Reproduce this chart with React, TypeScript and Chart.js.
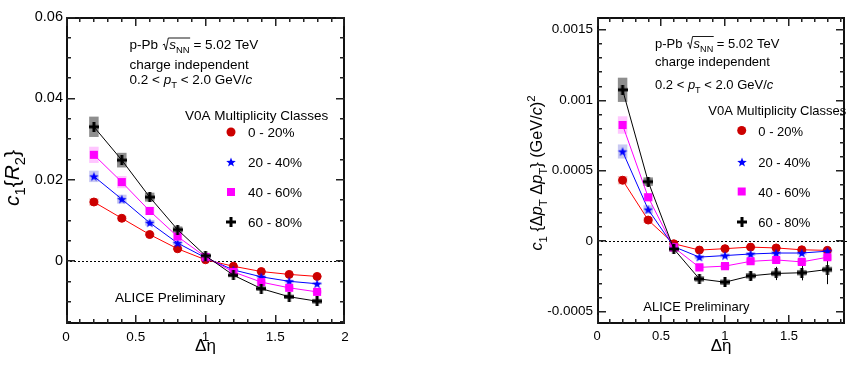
import React, { useEffect, useRef } from 'react';
import { Chart, registerables } from 'chart.js';

Chart.register(...registerables);

// ---------------- data ----------------
const ETA = [0.2, 0.4, 0.6, 0.8, 1.0, 1.2, 1.4, 1.6, 1.8];
const CLASS_LABELS = ['0 - 20%', '20 - 40%', '40 - 60%', '60 - 80%'];

// c1{R2}
const R2_C0_20 = [0.0145, 0.0105, 0.0065, 0.0030, 0.0003, -0.0013, -0.0026, -0.0033, -0.0038];
const R2_C20_40 = [0.0208, 0.0152, 0.0094, 0.0044, 0.0008, -0.0022, -0.0039, -0.0050, -0.0056];
const R2_C40_60 = [0.0261, 0.0194, 0.0123, 0.0060, 0.0010, -0.0027, -0.0052, -0.0066, -0.0076];
const R2_C60_80 = [0.0330, 0.0248, 0.0157, 0.0077, 0.0013, -0.0035, -0.0068, -0.0088, -0.0099];

const R2_SYS_C0_20 = [0.0009, 0.0006, 0.0004, 0.0003, 0.0003, 0.0003, 0.0003, 0.0003, 0.0003];
const R2_SYS_C20_40 = [0.0014, 0.0011, 0.0007, 0.0005, 0.0003, 0.0003, 0.0003, 0.0003, 0.0003];
const R2_SYS_C40_60 = [0.0020, 0.0015, 0.0010, 0.0008, 0.0004, 0.0004, 0.0004, 0.0004, 0.0004];
const R2_SYS_C60_80 = [0.0025, 0.0018, 0.0011, 0.0008, 0.0005, 0.0004, 0.0005, 0.0005, 0.0006];

const R2_STAT_C0_20 = [0, 0, 0, 0, 0, 0, 0, 0, 0];
const R2_STAT_C20_40 = [0, 0, 0, 0, 0, 0, 0, 0, 0];
const R2_STAT_C40_60 = [0, 0, 0, 0, 0, 0, 0, 0, 0];
const R2_STAT_C60_80 = [0, 0, 0, 0, 0, 0, 0, 0, 0];

// c1{DpT DpT}
const PT_C0_20 = [0.000431, 0.000148, -0.000020, -0.000065, -0.000055, -0.000044, -0.000050, -0.000063, -0.000067];
const PT_C20_40 = [0.000635, 0.000223, -0.000041, -0.000115, -0.000104, -0.000093, -0.000086, -0.000086, -0.000073];
const PT_C40_60 = [0.000823, 0.000310, -0.000046, -0.000188, -0.000179, -0.000145, -0.000135, -0.000149, -0.000116];
const PT_C60_80 = [0.001073, 0.000421, -0.000057, -0.000270, -0.000293, -0.000248, -0.000231, -0.000226, -0.000203];

const PT_SYS_C0_20 = [0.000030, 0.000020, 0.000010, 0.000010, 0.000010, 0.000010, 0.000010, 0.000010, 0.000010];
const PT_SYS_C20_40 = [0.000050, 0.000030, 0.000015, 0.000015, 0.000015, 0.000015, 0.000015, 0.000015, 0.000015];
const PT_SYS_C40_60 = [0.000062, 0.000030, 0.000020, 0.000020, 0.000020, 0.000020, 0.000020, 0.000020, 0.000020];
const PT_SYS_C60_80 = [0.000086, 0.000030, 0.000020, 0.000020, 0.000020, 0.000020, 0.000020, 0.000020, 0.000020];

const PT_STAT_C0_20 = [0, 0, 0, 0, 0, 0.000005, 0.000006, 0.000008, 0.000010];
const PT_STAT_C20_40 = [0, 0, 0, 0, 0, 0.000008, 0.000010, 0.000012, 0.000015];
const PT_STAT_C40_60 = [0, 0, 0, 0.000008, 0.000010, 0.000015, 0.000020, 0.000025, 0.000040];
const PT_STAT_C60_80 = [0, 0, 0, 0.000012, 0.000020, 0.000030, 0.000047, 0.000054, 0.000104];

// ticks
const R2_Y_TICKS = [0, 0.02, 0.04, 0.06];
const R2_Y_LABELS = ['0', '0.02', '0.04', '0.06'];
const R2_X_TICKS = [0, 0.5, 1, 1.5, 2];
const R2_X_LABELS = ['0', '0.5', '1', '1.5', '2'];
const PT_Y_TICKS = [-0.0005, 0, 0.0005, 0.001, 0.0015];
const PT_Y_LABELS = ['-0.0005', '0', '0.0005', '0.001', '0.0015'];
const PT_X_TICKS = [0, 0.5, 1, 1.5];
const PT_X_LABELS = ['0', '0.5', '1', '1.5'];

// ---------------- styles ----------------
const FONT = '"Liberation Sans", Arial, Helvetica, sans-serif';
type Shape = 'circle' | 'star' | 'square' | 'plus';
const SERIES_STYLE: { line: string; marker: string; box: string; shape: Shape }[] = [
  { line: '#ff0000', marker: '#cc0000', box: '#f3c4c4', shape: 'circle' },
  { line: '#0000ff', marker: '#0000ff', box: '#c9c9f2', shape: 'star' },
  { line: '#ff00ff', marker: '#ff00ff', box: '#ffc6ff', shape: 'square' },
  { line: '#000000', marker: '#000000', box: '#8e8e8e', shape: 'plus' },
];

function makeStar(color: string, R: number): HTMLCanvasElement {
  const size = Math.ceil(2 * R + 2);
  const c = document.createElement('canvas');
  c.width = size;
  c.height = size;
  const g = c.getContext('2d')!;
  const cx = size / 2;
  const cy = size / 2 + 0.5;
  g.beginPath();
  for (let i = 0; i < 10; i++) {
    const a = -Math.PI / 2 + (i * Math.PI) / 5;
    const r = i % 2 ? R * 0.42 : R;
    const px = cx + r * Math.cos(a);
    const py = cy + r * Math.sin(a);
    if (i === 0) g.moveTo(px, py);
    else g.lineTo(px, py);
  }
  g.closePath();
  g.fillStyle = color;
  g.fill();
  return c;
}

function makePlus(color: string, L: number, W: number): HTMLCanvasElement {
  const c = document.createElement('canvas');
  c.width = L;
  c.height = L;
  const g = c.getContext('2d')!;
  g.fillStyle = color;
  const o = (L - W) / 2;
  g.fillRect(o, 0, W, L);
  g.fillRect(0, o, L, W);
  return c;
}

type Part = { t: string; it?: boolean; sub?: boolean; sup?: boolean };

function drawRich(ctx: CanvasRenderingContext2D, parts: Part[], x: number, y: number, size: number, draw = true): number {
  let cx = x;
  for (const p of parts) {
    const s = p.sub || p.sup ? size * 0.7 : size;
    ctx.font = `${p.it ? 'italic ' : ''}${s}px ${FONT}`;
    const dy = p.sub ? size * 0.33 : p.sup ? -size * 0.42 : 0;
    if (draw) ctx.fillText(p.t, cx, y + dy);
    cx += ctx.measureText(p.t).width;
  }
  return cx - x;
}

type PanelDef = {
  offset: number;
  width: number;
  yAxisWidth: number;
  padRight: number;
  xMin: number;
  xMax: number;
  yMin: number;
  yMax: number;
  xMajor: number;
  xMinor: number;
  yMajor: number;
  yMinor: number;
  xTicks: number[];
  xLabels: string[];
  yTicks: number[];
  yLabels: string[];
  yTickFont: number;
  xTickFont: number;
  yTickPad: number;
  textFont: number;
  values: number[][];
  sys: number[][];
  stat: number[][];
  boxHalf: number;
  info: { x: number; y1: number; y2: number; y3: number };
  legend: { headX: number; headY: number; markX: number; labelX: number; rows: number[] };
  alice: { x: number; y: number };
  yTitle: { parts: Part[]; size: number; x: number; y: number };
  xTitleY: number;
};

const LEFT: PanelDef = {
  offset: 0,
  width: 425,
  yAxisWidth: 66,
  padRight: 80,
  xMin: 0,
  xMax: 2,
  yMin: -0.0155,
  yMax: 0.06,
  xMajor: 0.5,
  xMinor: 0.1,
  yMajor: 0.02,
  yMinor: 0.005,
  xTicks: R2_X_TICKS,
  xLabels: R2_X_LABELS,
  yTicks: R2_Y_TICKS,
  yLabels: R2_Y_LABELS,
  yTickFont: 14.5,
  xTickFont: 13.5,
  yTickPad: 3,
  textFont: 13.5,
  values: [R2_C0_20, R2_C20_40, R2_C40_60, R2_C60_80],
  sys: [R2_SYS_C0_20, R2_SYS_C20_40, R2_SYS_C40_60, R2_SYS_C60_80],
  stat: [R2_STAT_C0_20, R2_STAT_C20_40, R2_STAT_C40_60, R2_STAT_C60_80],
  boxHalf: 0.034,
  info: { x: 129.5, y1: 49, y2: 68.5, y3: 84 },
  legend: { headX: 185, headY: 119.5, markX: 231, labelX: 248, rows: [132, 162, 192, 222] },
  alice: { x: 115, y: 302 },
  yTitle: {
    parts: [{ t: 'c', it: true }, { t: '1', sub: true }, { t: '{' }, { t: 'R', it: true }, { t: '2', sub: true }, { t: '}' }],
    size: 21,
    x: 18.5,
    y: 178,
  },
  xTitleY: 351,
};

const RIGHT: PanelDef = {
  offset: 425,
  width: 426,
  yAxisWidth: 172,
  padRight: 1,
  xMin: 0,
  xMax: 1.94,
  yMin: -0.00059,
  yMax: 0.00159,
  xMajor: 0.5,
  xMinor: 0.1,
  yMajor: 0.0005,
  yMinor: 0.0001,
  xTicks: PT_X_TICKS,
  xLabels: PT_X_LABELS,
  yTicks: PT_Y_TICKS,
  yLabels: PT_Y_LABELS,
  yTickFont: 13.5,
  xTickFont: 13,
  yTickPad: 4,
  textFont: 13,
  values: [PT_C0_20, PT_C20_40, PT_C40_60, PT_C60_80],
  sys: [PT_SYS_C0_20, PT_SYS_C20_40, PT_SYS_C40_60, PT_SYS_C60_80],
  stat: [PT_STAT_C0_20, PT_STAT_C20_40, PT_STAT_C40_60, PT_STAT_C60_80],
  boxHalf: 0.037,
  info: { x: 230, y1: 47.5, y2: 65.5, y3: 89 },
  legend: { headX: 283.3, headY: 115, markX: 316.7, labelX: 333.3, rows: [130.5, 161.5, 191.5, 222] },
  alice: { x: 218.3, y: 311 },
  yTitle: {
    parts: [
      { t: 'c', it: true },
      { t: '1', sub: true },
      { t: ' {Δ' },
      { t: 'p', it: true },
      { t: 'T', sub: true },
      { t: ' Δ' },
      { t: 'p', it: true },
      { t: 'T', sub: true },
      { t: '} (GeV/' },
      { t: 'c', it: true },
      { t: ')' },
      { t: '2', sup: true },
    ],
    size: 16.3,
    x: 117,
    y: 173,
  },
  xTitleY: 351,
};

// frame (2px, like the resampled ROOT frame) and inward ticks on all four sides
function drawFrame(ctx: CanvasRenderingContext2D, chart: any, P: PanelDef) {
  const xs = chart.scales.x;
  const ys = chart.scales.y;
  const L = Math.round(xs.getPixelForValue(P.xMin));
  const R = Math.round(xs.getPixelForValue(P.xMax));
  const T = Math.round(ys.getPixelForValue(P.yMax));
  const B = Math.round(ys.getPixelForValue(P.yMin));
  ctx.save();
  ctx.globalAlpha = 1;
  ctx.globalCompositeOperation = 'source-over';
  ctx.setLineDash([]);
  ctx.fillStyle = '#111111';
  ctx.fillRect(L, T, R - L, 2);
  ctx.fillRect(L, B - 2, R - L, 2);
  ctx.fillRect(L, T, 2, B - T);
  ctx.fillRect(R - 2, T, 2, B - T);
  const isMajor = (v: number, step: number) => Math.abs(v / step - Math.round(v / step)) < 1e-6;
  const nyA = Math.ceil(P.yMin / P.yMinor - 1e-6);
  const nyB = Math.floor(P.yMax / P.yMinor + 1e-6);
  ctx.fillStyle = '#222222';
  for (let k = nyA; k <= nyB; k++) {
    const v = k * P.yMinor;
    const py = Math.min(B - 2, Math.max(T, Math.round(ys.getPixelForValue(v) - 0.5)));
    const len = isMajor(v, P.yMajor) ? 9 : 5;
    ctx.fillRect(L, py, len, 1.5);
    ctx.fillRect(R - len, py, len, 1.5);
  }
  const nxA = Math.ceil(P.xMin / P.xMinor - 1e-6);
  const nxB = Math.floor(P.xMax / P.xMinor + 1e-6);
  for (let k = nxA; k <= nxB; k++) {
    const v = k * P.xMinor;
    const px = Math.min(R - 2, Math.max(L, Math.round(xs.getPixelForValue(v) - 0.5)));
    const len = isMajor(v, P.xMajor) ? 9 : 5;
    ctx.fillRect(px, B - len, 1.5, len);
    ctx.fillRect(px, T, 1.5, len);
  }
  ctx.restore();
}

function buildChart(canvas: HTMLCanvasElement, P: PanelDef): Chart {
  const images = {
    star: makeStar(SERIES_STYLE[1].marker, 5),
    plus: makePlus(SERIES_STYLE[3].marker, 10, 3),
  };
  const pointStyleFor = (shape: Shape): any =>
    shape === 'circle' ? 'circle' : shape === 'square' ? 'rect' : shape === 'star' ? images.star : images.plus;
  const radiusFor = (shape: Shape) => (shape === 'circle' ? 4 : shape === 'square' ? 5.7 : 5);

  const datasets = P.values.map((vals, si) => {
    const st = SERIES_STYLE[si];
    return {
      label: CLASS_LABELS[si],
      data: ETA.map((x, i) => ({ x, y: vals[i] })),
      showLine: true,
      borderColor: st.line,
      borderWidth: 1,
      pointStyle: pointStyleFor(st.shape),
      pointRadius: radiusFor(st.shape),
      pointBackgroundColor: st.marker,
      pointBorderColor: st.marker,
      pointBorderWidth: st.shape === 'circle' ? 1 : 0,
      order: 3 - si,
    };
  });

  const annotPlugin = {
    id: 'rootAnnot',
    beforeDatasetsDraw(chart: any) {
      const ctx: CanvasRenderingContext2D = chart.ctx;
      const xs = chart.scales.x;
      const ys = chart.scales.y;
      ctx.save();
      P.values.forEach((vals, si) => {
        ctx.fillStyle = SERIES_STYLE[si].box;
        vals.forEach((v, i) => {
          const x0 = xs.getPixelForValue(ETA[i] - P.boxHalf);
          const x1 = xs.getPixelForValue(ETA[i] + P.boxHalf);
          const y0 = ys.getPixelForValue(v + P.sys[si][i]);
          const y1 = ys.getPixelForValue(v - P.sys[si][i]);
          ctx.fillRect(x0, y0, x1 - x0, y1 - y0);
        });
      });
      const z = Math.round(ys.getPixelForValue(0));
      ctx.fillStyle = '#000';
      for (let px = Math.round(xs.left); px < xs.right; px += 4) ctx.fillRect(px, z, 2, 1);
      P.values.forEach((vals, si) => {
        ctx.fillStyle = SERIES_STYLE[si].marker;
        vals.forEach((v, i) => {
          const e = P.stat[si][i];
          if (!e) return;
          const px = Math.round(xs.getPixelForValue(ETA[i]));
          const ya = ys.getPixelForValue(v + e);
          const yb = ys.getPixelForValue(v - e);
          ctx.fillRect(px, ya, 1, yb - ya);
        });
      });
      ctx.restore();
    },
    afterDraw(chart: any) {
      const ctx: CanvasRenderingContext2D = chart.ctx;
      const { left, right } = chart.chartArea;
      drawFrame(ctx, chart, P);
      ctx.save();
      ctx.fillStyle = '#000';
      ctx.strokeStyle = '#000';
      ctx.textBaseline = 'alphabetic';
      ctx.textAlign = 'left';
      const fs = P.textFont;
      let cx = P.info.x;
      cx += drawRich(ctx, [{ t: 'p-Pb ' }], cx, P.info.y1, fs);
      const sqX = cx + 1;
      const inner: Part[] = [{ t: 's', it: true }, { t: 'NN', sub: true }];
      const innerW = drawRich(ctx, inner, 0, 0, fs, false);
      ctx.beginPath();
      ctx.lineWidth = 0.9;
      ctx.moveTo(sqX, P.info.y1 - 4);
      ctx.lineTo(sqX + 1.5, P.info.y1 - 5);
      ctx.lineTo(sqX + 3.2, P.info.y1 + 1);
      ctx.lineTo(sqX + 5.5, P.info.y1 - 11);
      ctx.lineTo(sqX + 6.5 + innerW + 0.5, P.info.y1 - 11);
      ctx.stroke();
      cx = sqX + 6.5;
      cx += drawRich(ctx, inner, cx, P.info.y1, fs);
      drawRich(ctx, [{ t: ' = 5.02 TeV' }], cx, P.info.y1, fs);
      drawRich(ctx, [{ t: 'charge independent' }], P.info.x, P.info.y2, fs);
      drawRich(
        ctx,
        [{ t: '0.2 < ' }, { t: 'p', it: true }, { t: 'T', sub: true }, { t: ' < 2.0 GeV/' }, { t: 'c', it: true }],
        P.info.x,
        P.info.y3,
        fs
      );
      drawRich(ctx, [{ t: 'V0A Multiplicity Classes' }], P.legend.headX, P.legend.headY, fs);
      P.legend.rows.forEach((ry, si) => {
        const st = SERIES_STYLE[si];
        const mx = P.legend.markX;
        ctx.fillStyle = st.marker;
        if (st.shape === 'circle') {
          ctx.beginPath();
          ctx.arc(mx, ry, 4.5, 0, Math.PI * 2);
          ctx.fill();
        } else if (st.shape === 'square') {
          ctx.fillRect(mx - 4, ry - 4, 8, 8);
        } else {
          const img = st.shape === 'star' ? images.star : images.plus;
          ctx.drawImage(img, Math.round(mx - img.width / 2), Math.round(ry - img.height / 2));
        }
        ctx.fillStyle = '#000';
        drawRich(ctx, [{ t: CLASS_LABELS[si] }], P.legend.labelX, ry + 5, fs);
      });
      drawRich(ctx, [{ t: 'ALICE Preliminary' }], P.alice.x, P.alice.y, fs);

      ctx.font = `17px ${FONT}`;
      const xt = 'Δη';
      const xw = ctx.measureText(xt).width;
      ctx.fillText(xt, (left + right) / 2 - xw / 2, P.xTitleY);

      const YT = P.yTitle;
      const tw = drawRich(ctx, YT.parts, 0, 0, YT.size, false);
      ctx.translate(YT.x, YT.y);
      ctx.rotate(-Math.PI / 2);
      drawRich(ctx, YT.parts, -tw / 2, 0, YT.size);
      ctx.restore();
    },
  };

  return new Chart(canvas, {
    type: 'scatter',
    data: { datasets: datasets as any },
    options: {
      responsive: false,
      maintainAspectRatio: false,
      animation: false,
      devicePixelRatio: 1,
      layout: { padding: { left: 0, right: P.padRight, top: 17, bottom: 0 } },
      plugins: { legend: { display: false }, tooltip: { enabled: false } },
      scales: {
        x: {
          type: 'linear',
          min: P.xMin,
          max: P.xMax,
          grid: { display: false, drawTicks: false, tickLength: 0 },
          border: { display: false },
          afterBuildTicks: (axis: any) => {
            axis.ticks = P.xTicks.map((v) => ({ value: v }));
          },
          afterFit: (axis: any) => {
            axis.height = 41;
          },
          ticks: {
            autoSkip: false,
            maxRotation: 0,
            padding: 5,
            color: '#000',
            font: { family: FONT, size: P.xTickFont },
            callback: (_v: any, i: number) => P.xLabels[i],
          },
        },
        y: {
          type: 'linear',
          min: P.yMin,
          max: P.yMax,
          grid: { display: false, drawTicks: false, tickLength: 0 },
          border: { display: false },
          afterBuildTicks: (axis: any) => {
            axis.ticks = P.yTicks.map((v) => ({ value: v }));
          },
          afterFit: (axis: any) => {
            axis.width = P.yAxisWidth;
          },
          ticks: {
            autoSkip: false,
            padding: P.yTickPad,
            color: '#000',
            font: { family: FONT, size: P.yTickFont },
            callback: (_v: any, i: number) => P.yLabels[i],
          },
        },
      },
    },
    plugins: [annotPlugin],
  } as any);
}

function Panel({ def }: { def: PanelDef }) {
  const ref = useRef<HTMLCanvasElement>(null);
  useEffect(() => {
    const chart = buildChart(ref.current!, def);
    return () => chart.destroy();
  }, [def]);
  return (
    <canvas
      ref={ref}
      width={def.width}
      height={365}
      style={{ position: 'absolute', left: def.offset, top: 0, width: def.width, height: 365 }}
    />
  );
}

export default function App() {
  return (
    <div style={{ position: 'absolute', left: 0, top: 0, width: 851, height: 365, background: '#fff', overflow: 'hidden' }}>
      <Panel def={LEFT} />
      <Panel def={RIGHT} />
    </div>
  );
}
